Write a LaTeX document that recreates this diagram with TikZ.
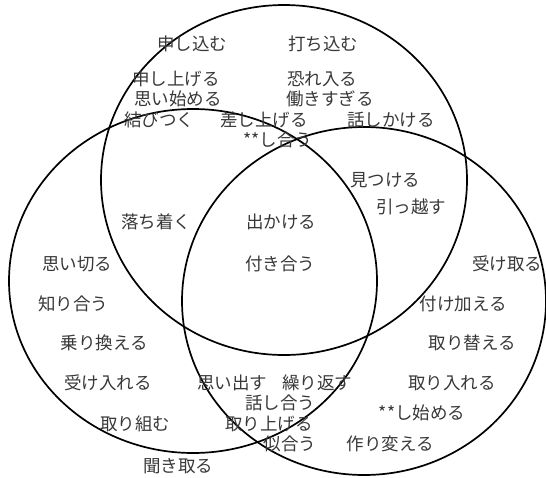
\documentclass[tikz,border=0pt]{standalone}
\usepackage{fontspec}
\newfontfamily\jpfont{Noto Sans CJK JP}
\begin{document}
\begin{tikzpicture}[x=1pt,y=-1pt,
  ring/.style={line width=1.7pt,black},
  word/.style={font=\jpfont\fontsize{17.5}{18}\selectfont,text=black!78,inner sep=0pt,anchor=center}]
\useasboundingbox (0,0) rectangle (546,477);
% circles
\draw[ring] (284,180) ellipse [x radius=183pt, y radius=175pt];
\draw[ring] (193,281) ellipse [x radius=184pt, y radius=172pt];
\draw[ring] (364,301) ellipse [x radius=182pt, y radius=174pt];
% words
\node[word] (w1) at (192,44) {申し込む};
\node[word] (w2) at (323,44) {打ち込む};
\node[word] (w3) at (176,79) {申し上げる};
\node[word] (w4) at (322,79) {恐れ入る};
\node[word] (w5) at (178,99) {思い始める};
\node[word] (w6) at (330,99) {働きすぎる};
\node[word] (w7) at (159,120) {結びつく};
\node[word] (w8) at (264,120) {差し上げる};
\node[word] (w9) at (391,120) {話しかける};
\node[word] (w10) at (278,140) {**し合う};
\node[word] (w11) at (385,180) {見つける};
\node[word] (w12) at (411,207) {引っ越す};
\node[word] (w13) at (156,222) {落ち着く};
\node[word] (w14) at (281,222) {出かける};
\node[word] (w15) at (77,264) {思い切る};
\node[word] (w16) at (280,264) {付き合う};
\node[word] (w17) at (507,264) {受け取る};
\node[word] (w18) at (73,304) {知り合う};
\node[word] (w19) at (463,304) {付け加える};
\node[word] (w20) at (104,343) {乗り換える};
\node[word] (w21) at (472,343) {取り替える};
\node[word] (w22) at (108,383) {受け入れる};
\node[word] (w23) at (232,383) {思い出す};
\node[word] (w24) at (317,383) {繰り返す};
\node[word] (w25) at (452,383) {取り入れる};
\node[word] (w26) at (280,403) {話し合う};
\node[word] (w27) at (422,413) {**し始める};
\node[word] (w28) at (135,424) {取り組む};
\node[word] (w29) at (269,424) {取り上げる};
\node[word] (w30) at (290,444) {似合う};
\node[word] (w31) at (390,444) {作り変える};
\node[word] (w32) at (178,466) {聞き取る};
\end{tikzpicture}
\end{document}
